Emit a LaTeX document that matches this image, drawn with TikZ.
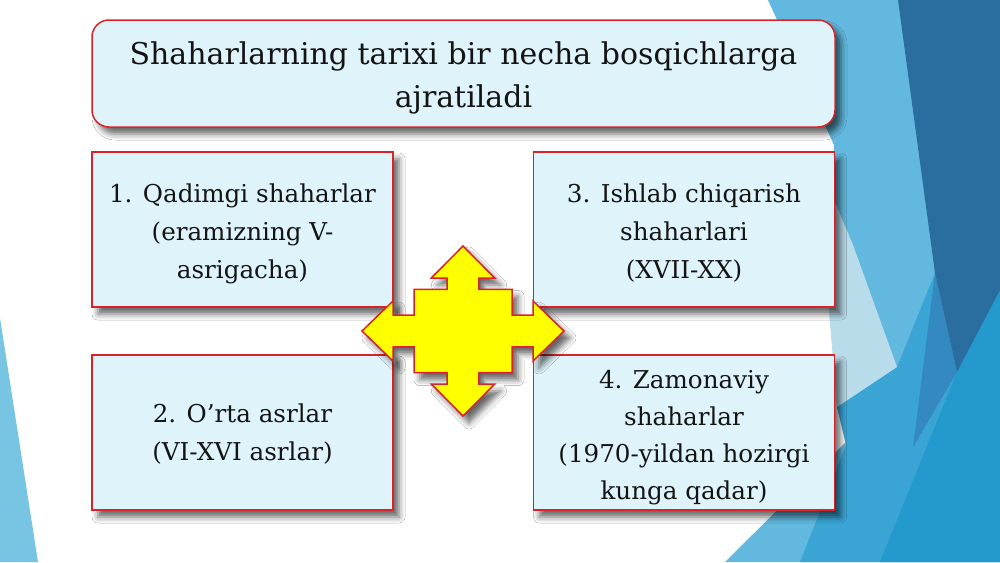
\documentclass[tikz,border=0pt]{standalone}
\usepackage{fontspec}
\setmainfont{DejaVu Serif}
\usetikzlibrary{shadows.blur}
\definecolor{boxfill}{HTML}{DFF3FA}
\definecolor{boxred}{HTML}{D8232A}
\definecolor{txt}{HTML}{141414}
\definecolor{bglight}{HTML}{62B8DE}
\definecolor{bgmed}{HTML}{3AA5D4}
\definecolor{bgdark}{HTML}{2A6D9F}
\definecolor{bgwedge}{HTML}{3489C0}
\definecolor{bgbright}{HTML}{2399CE}
\definecolor{bgpale}{HTML}{B9DCEB}
\definecolor{bgleft}{HTML}{78C4E3}
\definecolor{arrowyellow}{HTML}{FFFF00}
\tikzset{
  softshadow/.style={blur shadow={shadow xshift=6pt, shadow yshift=-7pt, shadow blur radius=6pt, shadow opacity=60}},
  stagebox/.style={draw=boxred, line width=1.5pt, fill=boxfill, softshadow, inner sep=0pt,
    minimum width=301pt, minimum height=155pt},
  stagetext/.style={inner sep=0pt, align=center, text=txt, font=\fontsize{24.6}{38}\selectfont},
  titlebox/.style={draw=boxred, line width=1.5pt, fill=boxfill, softshadow, rounded corners=17pt,
    inner sep=0pt, minimum width=743pt, minimum height=107pt},
  titletext/.style={inner sep=0pt, align=center, text=txt, font=\fontsize{30}{43}\selectfont},
  bigarrow/.style={draw=boxred, line width=1.5pt, fill=arrowyellow, line join=miter, softshadow}
}
\begin{document}
\begin{tikzpicture}[x=1pt,y=-1pt]
\useasboundingbox (0,0) rectangle (1000,562);
\fill[white] (0,0) rectangle (1000,562);
% background facets
\fill[bglight] (768,0) -- (1000,0) -- (1000,562) -- (725,562) -- (848,440) -- (837,407) -- (830,300) -- (834,145) -- cycle;
\fill[bgmed] (800,562) -- (846,445) -- (837,407) -- (897,367) -- (935,273) -- (957,372) -- (1000,290) -- (1000,562) -- cycle;
\fill[bgbright] (957,372) -- (1000,290) -- (1000,562) -- (880,562) -- cycle;
\fill[bgwedge] (935,273) -- (957,372) -- (913,447) -- cycle;
\fill[bgdark] (898,0) -- (1000,0) -- (1000,290) -- (957,372) -- (935,273) -- cycle;
\fill[bgpale] (834,200) -- (853,245) -- (897,367) -- (837,407) -- (828,300) -- cycle;
\fill[bgleft] (0,318) -- (38,562) -- (0,562) -- cycle;
% title
\node[titlebox] (title) at (463.5,73.5) {};
\node[titletext] (titletx) at ([yshift=-4pt]title.center) {Shaharlarning tarixi bir necha bosqichlarga\\ajratiladi};
% stage boxes
\node[stagebox] (s1) at (242.5,229.5) {};
\node[stagebox] (s2) at (242.5,432.5) {};
\node[stagebox] (s3) at (684,229.5) {};
\node[stagebox] (s4) at (684,432.5) {};
\node[stagetext] (t1) at ([yshift=-4pt]s1.center) {1. Qadimgi shaharlar\\(eramizning V-\\asrigacha)};
\node[stagetext] (t2) at ([yshift=-2pt]s2.center) {2. O’rta asrlar\\(VI-XVI asrlar)};
\node[stagetext] (t3) at ([yshift=-4pt]s3.center) {3. Ishlab chiqarish\\shaharlari\\(XVII-XX)};
\node[stagetext,font=\fontsize{24.6}{37}\selectfont] (t4) at ([yshift=-5pt]s4.center) {4. Zamonaviy\\shaharlar\\(1970-yildan hozirgi\\kunga qadar)};
% four-way arrow
\draw[bigarrow] (463,246) -- (494.7,278) -- (478.8,278) -- (478.8,289.3) -- (512,289.3)
  -- (512,315.2) -- (533,315.2) -- (533,301) -- (564,331) -- (533,361) -- (533,346.8)
  -- (512,346.8) -- (512,372.7) -- (478.8,372.7) -- (478.8,384) -- (494.7,384)
  -- (463,416) -- (431.3,384) -- (447.2,384) -- (447.2,372.7) -- (414,372.7)
  -- (414,346.8) -- (393,346.8) -- (393,361) -- (362,331) -- (393,301) -- (393,315.2)
  -- (414,315.2) -- (414,289.3) -- (447.2,289.3) -- (447.2,278) -- (431.3,278) -- cycle;
\end{tikzpicture}
\end{document}
